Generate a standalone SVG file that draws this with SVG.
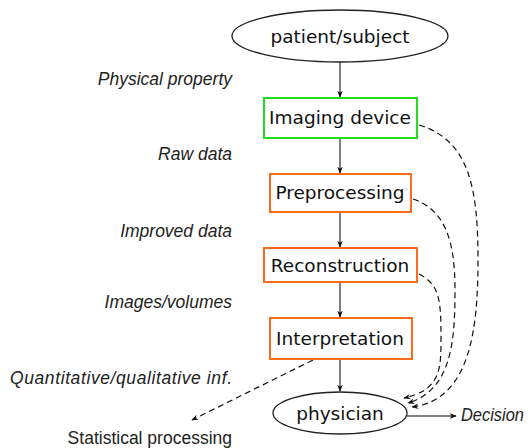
<svg xmlns="http://www.w3.org/2000/svg" width="528" height="448" viewBox="0 0 528 448">
<defs>
<marker id="ah" viewBox="0 0 10 10" refX="9" refY="5" markerWidth="7" markerHeight="7" orient="auto" markerUnits="userSpaceOnUse">
<path d="M0,1 L10,5 L0,9 L3,5 z" fill="#111"/>
</marker>
<style>
.node text{font-family:"DejaVu Sans","Liberation Sans",sans-serif;font-size:18.5px;fill:#111;text-anchor:middle}
.lbl{font-family:"Liberation Sans",sans-serif;font-size:17.5px;font-style:italic;fill:#222;text-anchor:end}
.ell{fill:#fff;stroke:#222;stroke-width:1.3}
.gbox{fill:#fff;stroke:#22dd22;stroke-width:2}
.obox{fill:#fff;stroke:#ff6a1a;stroke-width:2}
.solid{fill:none;stroke:#555;stroke-width:1.5;marker-end:url(#ah)}
.dash{fill:none;stroke:#111;stroke-width:1.2;stroke-dasharray:6,4;marker-end:url(#ah)}
</style>
</defs>
<g id="connectors">
<line class="solid" x1="340" y1="62" x2="340" y2="97"/>
<line class="solid" x1="340" y1="138" x2="340" y2="173"/>
<line class="solid" x1="340" y1="212" x2="340" y2="247"/>
<line class="solid" x1="340" y1="282" x2="340" y2="317"/>
<line class="solid" x1="340" y1="359" x2="340" y2="391"/>
<line class="solid" x1="407" y1="416" x2="456" y2="416"/>
<path class="dash" d="M313,360 L192,420"/>
<path class="dash" d="M419,125 C470,140 478,190 478,260 C478,330 470,400 412,407"/>
<path class="dash" d="M413,199 C445,210 455,240 455,290 C455,340 452,390 408,403"/>
<path class="dash" d="M419,274 C440,285 441,300 441,340 C441,370 440,390 404,398"/>
</g>
<g id="patient" class="node">
<ellipse class="ell" cx="340" cy="36" rx="108" ry="26"/>
<text x="340" y="43">patient/subject</text>
</g>
<g id="imaging" class="node">
<rect class="gbox" x="264" y="98" width="153" height="40"/>
<text x="340" y="124">Imaging device</text>
</g>
<g id="preprocessing" class="node">
<rect class="obox" x="270" y="174" width="141" height="38"/>
<text x="340" y="199">Preprocessing</text>
</g>
<g id="reconstruction" class="node">
<rect class="obox" x="264" y="248" width="153" height="34"/>
<text x="340" y="272">Reconstruction</text>
</g>
<g id="interpretation" class="node">
<rect class="obox" x="270" y="318" width="142" height="41"/>
<text x="340" y="345">Interpretation</text>
</g>
<g id="physician" class="node">
<ellipse class="ell" cx="340" cy="413" rx="67" ry="21"/>
<text x="340" y="420">physician</text>
</g>
<g id="labels">
<text class="lbl" x="232" y="85">Physical property</text>
<text class="lbl" x="232" y="160">Raw data</text>
<text class="lbl" x="232" y="237">Improved data</text>
<text class="lbl" x="232" y="308">Images/volumes</text>
<text class="lbl" x="232" y="384" textLength="222">Quantitative/qualitative inf.</text>
<text class="lbl" x="232" y="444" style="font-style:normal">Statistical processing</text>
<text class="lbl" x="461" y="421" style="text-anchor:start" textLength="63" lengthAdjust="spacingAndGlyphs">Decision</text>
</g>
</svg>
